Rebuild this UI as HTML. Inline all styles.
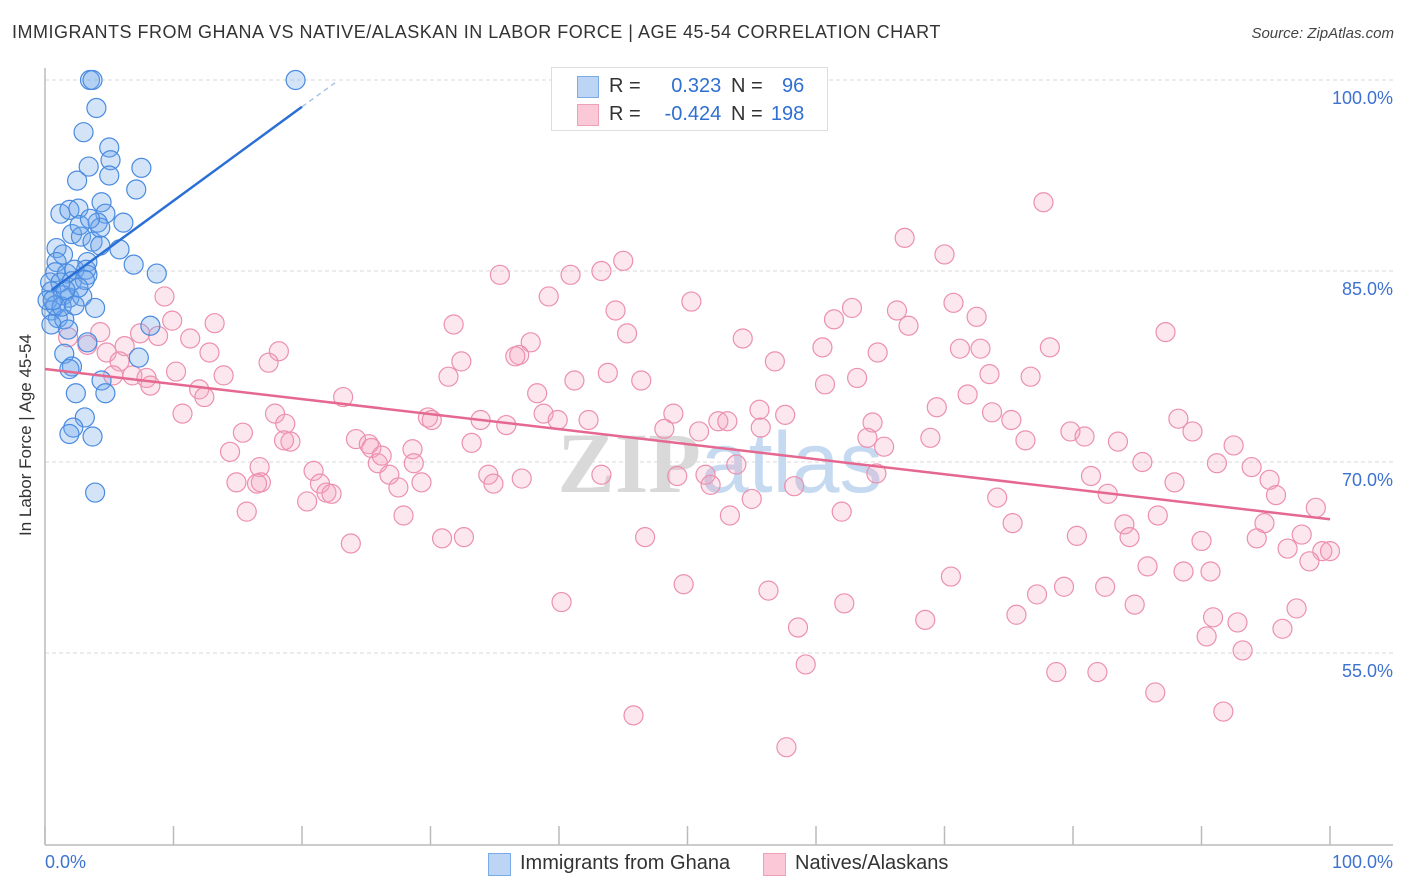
<!DOCTYPE html>
<html><head><meta charset="utf-8">
<style>
body{margin:0;background:#fff;font-family:"Liberation Sans",sans-serif;}
#wrap{position:relative;width:1406px;height:892px;overflow:hidden;}
.t{position:absolute;white-space:nowrap;}
</style></head>
<body>
<div id="wrap">
<div class="t" style="left:12px;top:22px;font-size:18px;letter-spacing:0.5px;color:#333;">IMMIGRANTS FROM GHANA VS NATIVE/ALASKAN IN LABOR FORCE | AGE 45-54 CORRELATION CHART</div>
<div class="t" style="right:12px;top:25px;font-size:15px;color:#444;font-style:italic;">Source: ZipAtlas.com</div>
<svg id="plot" width="1406" height="892" style="position:absolute;left:0;top:0"></svg>
</div>
<script>
const blueX=[3.5,3.7,19.5,4.0,3.0,5.0,5.1,3.4,7.5,2.5,5.0,7.1,4.4,1.2,1.9,2.6,4.7,4.1,6.1,2.1,2.8,3.7,4.3,5.8,0.9,1.4,0.9,3.3,6.9,8.7,0.8,1.7,2.3,3.2,3.3,0.4,1.2,2.1,0.5,1.4,1.9,2.9,3.9,0.5,1.0,1.5,0.5,1.8,8.2,3.3,7.3,1.5,2.1,1.9,4.4,2.4,4.7,3.1,2.2,1.9,3.7,3.9,0.2,0.8,1.3,2.3,3.1,2.6,0.6,1.6,4.3,2.7,3.5];
const blueY=[100,100,100,97.8,95.9,94.7,93.7,93.2,93.1,92.1,92.5,91.4,90.4,89.5,89.8,89.9,89.5,88.8,88.8,87.9,87.7,87.3,87.0,86.7,86.8,86.3,85.7,85.7,85.5,84.8,84.9,84.8,85.1,85.1,84.7,84.1,84.1,84.2,83.4,83.1,82.9,83.0,82.1,81.9,81.3,81.2,80.8,80.4,80.7,79.4,78.2,78.5,77.5,77.3,76.4,75.4,75.4,73.5,72.7,72.2,72.0,67.6,82.7,82.3,82.2,82.3,84.3,83.7,82.7,83.5,88.4,88.6,89.1];
const pinkX=[77.7,66.9,70.0,45.0,35.4,40.9,43.3,9.3,39.2,50.3,44.4,62.8,70.7,66.3,72.5,61.4,67.2,9.9,13.2,87.2,31.8,7.4,4.3,8.8,11.3,45.3,54.3,6.2,1.8,3.3,4.8,18.2,12.8,37.8,60.5,64.8,71.2,72.8,78.2,56.8,36.9,32.4,36.6,17.4,5.8,10.2,6.8,5.3,7.9,8.2,13.9,31.4,41.2,46.4,43.8,63.2,60.7,73.5,76.7,12.0,12.4,38.3,10.7,17.9,23.2,29.8,30.1,38.8,39.9,42.3,33.9,35.9,48.9,52.4,53.1,55.6,57.6,69.4,71.8,73.7,75.2,88.2,89.3,64.4,18.7,19.1,15.4,24.2,25.2,18.6,14.4,25.4,28.6,33.2,48.2,50.9,55.7,68.9,64.0,65.3,76.3,79.8,80.9,83.5,92.5,85.4,91.2,93.9,16.7,20.9,16.8,14.9,16.5,21.4,21.9,20.4,22.3,25.9,26.2,28.7,26.8,29.3,27.5,34.5,34.9,37.1,43.3,49.2,51.4,51.8,53.8,55.0,58.3,64.7,74.1,81.4,82.7,87.9,95.3,95.8,98.9,15.7,27.9,53.3,62.0,75.3,84.0,86.6,94.9,80.3,84.4,90.0,94.3,23.8,30.9,32.6,46.7,97.8,96.7,99.4,100,98.4,85.8,88.6,90.7,70.5,49.7,56.3,79.3,82.5,77.2,84.8,40.2,62.2,90.9,97.4,68.5,75.6,92.8,96.3,58.6,90.4,93.2,59.2,78.7,81.9,86.4,91.7,45.8,57.7];
const pinkY=[90.4,87.6,86.3,85.8,84.7,84.7,85.0,83.0,83.0,82.6,81.9,82.1,82.5,81.9,81.4,81.2,80.7,81.1,80.9,80.2,80.8,80.1,80.2,79.9,79.7,80.1,79.7,79.1,79.8,79.2,78.6,78.7,78.6,79.4,79.0,78.6,78.9,78.9,79.0,77.9,78.4,77.9,78.3,77.8,77.9,77.1,76.8,76.8,76.6,76.0,76.8,76.7,76.4,76.4,77.0,76.6,76.1,76.9,76.7,75.7,75.1,75.4,73.8,73.8,75.1,73.5,73.3,73.8,73.3,73.3,73.3,72.9,73.8,73.2,73.2,74.1,73.7,74.3,75.3,73.9,73.3,73.4,72.4,73.1,73.0,71.6,72.3,71.8,71.4,71.7,70.8,71.1,71.0,71.5,72.6,72.4,72.7,71.9,71.9,71.2,71.7,72.4,72.0,71.6,71.3,70.0,69.9,69.6,69.6,69.3,68.4,68.4,68.3,68.3,67.6,66.9,67.5,69.9,70.5,69.9,69.0,68.4,68.0,69.0,68.3,68.7,69.0,68.9,69.0,68.2,69.8,67.1,68.1,69.1,67.2,68.9,67.5,68.4,68.6,67.4,66.4,66.1,65.8,65.8,66.1,65.2,65.1,65.8,65.2,64.2,64.1,63.8,64.0,63.6,64.0,64.1,64.1,64.3,63.2,63.0,63.0,62.2,61.8,61.4,61.4,61.0,60.4,59.9,60.2,60.2,59.6,58.8,59.0,58.9,57.8,58.5,57.6,58.0,57.4,56.9,57.0,56.3,55.2,54.1,53.5,53.5,51.9,50.4,50.1,47.6];
const blueTrendX=[0.5,20];
const blueTrendY=[83.5,97.9];
const blueDashX=[20,22.6];
const blueDashY=[97.9,99.8];
const pinkTrendX=[0,100];
const pinkTrendY=[77.3,65.5];
const yTicks=[100,85,70,55];
const yTickLabels=["100.0%","85.0%","70.0%","55.0%"];
const xTicks=[0,10,20,30,40,50,60,70,80,90,100];

const NS="http://www.w3.org/2000/svg";
const svg=document.getElementById('plot');
const X0=45,X1=1330,YTOP=80,PXPER=12.733;
function sx(v){return X0+(X1-X0)*v/100;}
function sy(v){return YTOP+(100-v)*PXPER;}
function mk(tag,attrs,parent){const e=document.createElementNS(NS,tag);for(const k in attrs)e.setAttribute(k,attrs[k]);(parent||svg).appendChild(e);return e;}

yTicks.forEach((v,i)=>{
  const g=mk('line',{x1:X0,x2:1393,y1:sy(v),y2:sy(v),stroke:'#d8d8d8','stroke-dasharray':'4,3','stroke-width':1});
  
  
  const t=mk('text',{x:1393,y:sy(v)+24,'text-anchor':'end','font-size':18,fill:'#3d72d0','font-family':'Liberation Sans, sans-serif'});
  t.textContent=yTickLabels[i];
  
  
});
const ya=mk('line',{x1:X0,x2:X0,y1:68,y2:845,stroke:'#bbb','stroke-width':1.5});


const xa=mk('line',{x1:X0,x2:1393,y1:845,y2:845,stroke:'#bbb','stroke-width':1.5});


xTicks.forEach(v=>{
  const l=mk('line',{x1:sx(v),x2:sx(v),y1:826,y2:845,stroke:'#bbb','stroke-width':1.5});
  
  
});
const wm=mk('text',{x:720,y:492,'text-anchor':'middle','font-size':86,'font-family':'Liberation Serif, serif'});


const w1=mk('tspan',{fill:'#d9d9d9','font-weight':'bold'},wm);w1.textContent='ZIP';
const w2=mk('tspan',{fill:'#c5d9f0','font-family':'Liberation Sans, sans-serif'},wm);w2.textContent='atlas';

pinkX.forEach((x,i)=>{
  const c=mk('circle',{cx:sx(x),cy:sy(pinkY[i]),r:9.5,fill:'rgba(244,160,188,0.25)',stroke:'#ec90ae','stroke-width':1.2});
  
  
});
blueX.forEach((x,i)=>{
  const c=mk('circle',{cx:sx(x),cy:sy(blueY[i]),r:9.5,fill:'rgba(110,165,235,0.3)',stroke:'#4a8be0','stroke-width':1.2});
  
  
});
const pt=mk('line',{x1:sx(pinkTrendX[0]),y1:sy(pinkTrendY[0]),x2:sx(pinkTrendX[1]),y2:sy(pinkTrendY[1]),stroke:'#e56890','stroke-width':2.5});


const bt=mk('line',{x1:sx(blueTrendX[0]),y1:sy(blueTrendY[0]),x2:sx(blueTrendX[1]),y2:sy(blueTrendY[1]),stroke:'#2a6fd6','stroke-width':2.5});


const bd=mk('line',{x1:sx(blueDashX[0]),y1:sy(blueDashY[0]),x2:sx(blueDashX[1]),y2:sy(blueDashY[1]),stroke:'#aac4e8','stroke-width':1.5,'stroke-dasharray':'5,4'});


</script>
<div class="t" style="left:45px;top:852px;font-size:18px;color:#3d72d0;">0.0%</div>
<div class="t" style="right:13px;top:852px;font-size:18px;color:#3d72d0;">100.0%</div>
<div class="t" style="left:-54px;top:446px;width:160px;text-align:center;font-size:17px;color:#333;transform:rotate(-90deg);">In Labor Force | Age 45-54</div>
<div style="position:absolute;left:551px;top:67px;width:275px;height:62px;border:1px solid #ddd;background:#fff;font-size:20px;">
  <div style="position:absolute;left:25px;top:8px;width:20px;height:20px;background:#bcd5f5;border:1px solid #7aaae8;"></div>
  <div style="position:absolute;left:25px;top:36px;width:20px;height:20px;background:#fac8d6;border:1px solid #eea0b8;"></div>
  <div class="t" style="left:57px;top:7px;color:#333;">R = <span style="color:#2f6fd2;display:inline-block;width:75px;text-align:right;">0.323</span></div>
  <div class="t" style="left:57px;top:35px;color:#333;">R = <span style="color:#2f6fd2;display:inline-block;width:75px;text-align:right;">-0.424</span></div>
  <div class="t" style="left:179px;top:7px;color:#333;">N = <span style="color:#2f6fd2;display:inline-block;width:36px;text-align:right;">96</span></div>
  <div class="t" style="left:179px;top:35px;color:#333;">N = <span style="color:#2f6fd2;display:inline-block;width:36px;text-align:right;">198</span></div>
</div>
<div style="position:absolute;left:488px;top:853px;font-size:20px;color:#333;">
  <div style="position:absolute;left:0;top:0;width:21px;height:21px;background:#bcd5f5;border:1px solid #7aaae8;"></div>
  <div class="t" style="left:32px;top:-1px;">Immigrants from Ghana</div>
  <div style="position:absolute;left:275px;top:0;width:21px;height:21px;background:#fac8d6;border:1px solid #eea0b8;"></div>
  <div class="t" style="left:307px;top:-1px;">Natives/Alaskans</div>
</div>
</body></html>
